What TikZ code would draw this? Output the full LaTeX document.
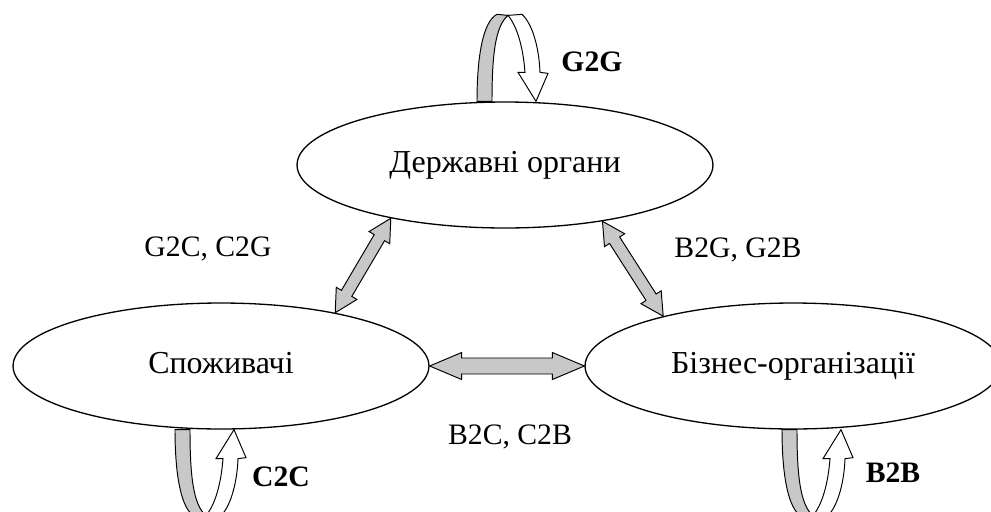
\documentclass[tikz,border=0pt]{standalone}
\usepackage{fontspec}
\setmainfont{Liberation Serif}
\usetikzlibrary{calc,shapes.geometric}
\definecolor{flowgray}{RGB}{200,200,200}

\tikzset{
  actor/.style={draw,ellipse,line width=0.75pt,minimum width=8.32cm,minimum height=2.52cm,inner sep=0pt,
    font=\fontsize{18.2}{21}\selectfont,text height=0.85em,text depth=0pt},
  flowlabel/.style={inner sep=0pt},
  arrowbody/.style={draw=black,fill=flowgray,line width=0.55pt,line join=miter},
  uturn/.pic={
    \filldraw[draw=black,fill=white,line width=0.55pt] (31,-86) -- (45,-87) .. controls (55,-78) and (62,-55) .. (63,-29) -- (71,-28) -- (59,0) -- (41,-29) -- (48,-29) .. controls (46,-55) and (40,-75) .. (31,-86) -- cycle;
    \filldraw[draw=black,fill=flowgray,line width=0.55pt] (0,0) .. controls (0,-45) and (6,-80) .. (20,-87) -- (31,-86) .. controls (18,-75) and (15,-45) .. (15,0) -- cycle;
  }
}

% double block arrow: from, to, head length, head half width, shaft half width
\newcommand{\blockarrow}[5]{%
  \filldraw[arrowbody]
    (#1) -- ($($(#1)!#3!(#2)$)!#4!90:(#2)$)
    -- ($($(#1)!#3!(#2)$)!#5!90:(#2)$)
    -- ($($(#2)!#3!(#1)$)!#5!-90:(#1)$)
    -- ($($(#2)!#3!(#1)$)!#4!-90:(#1)$)
    -- (#2)
    -- ($($(#2)!#3!(#1)$)!#4!90:(#1)$)
    -- ($($(#2)!#3!(#1)$)!#5!90:(#1)$)
    -- ($($(#1)!#3!(#2)$)!#5!-90:(#2)$)
    -- ($($(#1)!#3!(#2)$)!#4!-90:(#2)$)
    -- cycle;}

\begin{document}
\begin{tikzpicture}[x=0.02cm,y=-0.02cm,font=\fontsize{16.9}{20}\selectfont]
\useasboundingbox (0,0) rectangle (991,511);
\clip (0,0) rectangle (991,511);
\node[actor] (gov) at (505,165) {Державні органи};
\node[actor] (cons) at (221,366) {Споживачі};
\node[actor] (biz) at (793,366) {Бізнес-організації};
% links between the parties
\blockarrow{cons.25}{gov.205}{0.45cm}{0.24cm}{0.12cm}
\blockarrow{gov.330}{biz.159}{0.45cm}{0.24cm}{0.12cm}
\blockarrow{cons.east}{biz.west}{0.64cm}{0.27cm}{0.16cm}
% loops
\pic at ($(gov.north)+(-28,0)$) {uturn};
\pic[yscale=-1] at ($(cons.south)+(-46,0)$) {uturn};
\pic[yscale=-1] at ($(biz.south)+(-11,0)$) {uturn};
\node[flowlabel] (g2g) at (592,62) {\textbf{G2G}};
\node[flowlabel] (c2c) at (281,477) {\textbf{C2C}};
\node[flowlabel] (b2b) at (893,473) {\textbf{B2B}};
\node[flowlabel] (gc) at (208,249) {G2C, C2G};
\node[flowlabel] (bg) at (738,250) {B2G, G2B};
\node[flowlabel] (bc) at (510,437) {B2C, C2B};
\end{tikzpicture}
\end{document}
